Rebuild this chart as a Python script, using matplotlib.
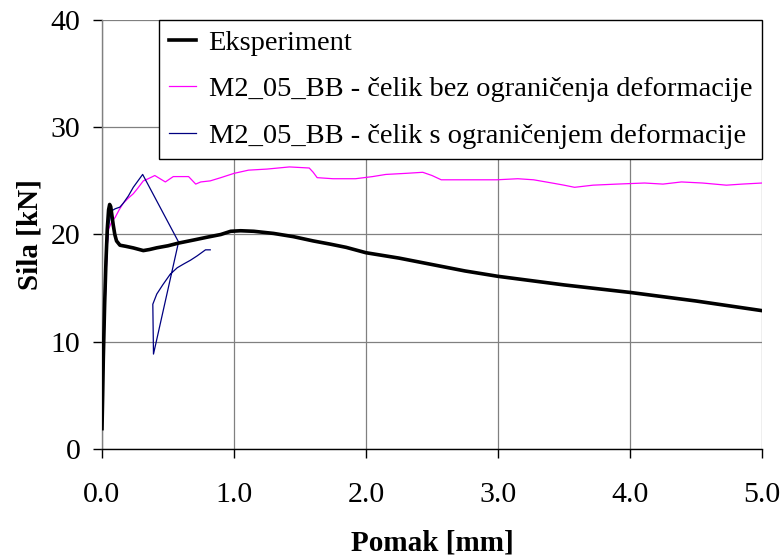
import matplotlib
matplotlib.use("Agg")
import matplotlib.pyplot as plt

plt.rcParams['font.family'] = ['Liberation Serif', 'DejaVu Serif']

# Eksperiment (black)
exp_x = [0.0, 0.005, 0.01, 0.02, 0.03, 0.04, 0.05, 0.058, 0.066, 0.075, 0.085, 0.097, 0.11, 0.136,
         0.18, 0.237, 0.313, 0.36, 0.415, 0.5, 0.58, 0.7, 0.797, 0.9, 0.975, 1.05, 1.15, 1.3,
         1.45, 1.6, 1.73, 1.85, 2.0, 2.25, 2.5, 2.75, 3.0, 3.5, 4.0, 4.5, 5.0]
exp_y = [1.9, 5.0, 8.5, 13.5, 17.5, 20.5, 22.3, 22.8, 22.6, 21.8, 20.9, 20.0, 19.4, 19.0,
         18.9, 18.75, 18.5, 18.6, 18.76, 18.95, 19.2, 19.5, 19.75, 20.0, 20.3, 20.35, 20.3, 20.1,
         19.8, 19.4, 19.1, 18.8, 18.3, 17.8, 17.2, 16.6, 16.1, 15.3, 14.6, 13.8, 12.9]

# M2_05_BB - čelik bez ograničenja deformacije (magenta)
mag_x = [0.0, 0.01, 0.02, 0.03, 0.04, 0.05, 0.072, 0.1, 0.13, 0.16, 0.2, 0.237, 0.27, 0.313,
         0.35, 0.40, 0.44, 0.48, 0.54, 0.6, 0.656, 0.71, 0.748, 0.82, 0.9, 1.0, 1.11, 1.25,
         1.42, 1.57, 1.6, 1.63, 1.75, 1.92, 2.05, 2.15, 2.3, 2.43, 2.5, 2.57, 2.75, 2.99,
         3.15, 3.27, 3.41, 3.5, 3.58, 3.65, 3.72, 3.9, 4.11, 4.25, 4.39, 4.55, 4.73, 4.85, 5.0]
mag_y = [2.0, 7.0, 12.0, 16.0, 19.0, 20.5, 21.15, 21.6, 22.3, 22.9, 23.4, 23.8, 24.3, 25.0,
         25.2, 25.5, 25.2, 24.9, 25.4, 25.4, 25.4, 24.7, 24.9, 25.0, 25.3, 25.7, 26.0, 26.1,
         26.3, 26.2, 25.8, 25.3, 25.2, 25.2, 25.4, 25.6, 25.7, 25.8, 25.5, 25.1, 25.1, 25.1,
         25.2, 25.1, 24.8, 24.6, 24.4, 24.5, 24.6, 24.7, 24.8, 24.7, 24.9, 24.8, 24.6, 24.7, 24.8]

# M2_05_BB - čelik s ograničenjem deformacije (navy)
blu_x = [0.0, 0.01, 0.02, 0.03, 0.04, 0.05, 0.072, 0.1, 0.135, 0.16, 0.2, 0.237, 0.308,
         0.58, 0.39, 0.385, 0.415, 0.46, 0.517, 0.57, 0.62, 0.67, 0.72, 0.784, 0.82]
blu_y = [2.0, 7.0, 12.0, 16.0, 19.0, 20.8, 22.2, 22.4, 22.55, 22.9, 23.6, 24.4, 25.6,
         19.3, 8.85, 13.5, 14.45, 15.3, 16.3, 16.9, 17.26, 17.6, 18.0, 18.57, 18.57]

x_ticks = [0.0, 1.0, 2.0, 3.0, 4.0, 5.0]
y_ticks = [0, 10, 20, 30, 40]

fig = plt.figure(figsize=(7.82, 5.58), dpi=100)
ax = fig.add_axes([102/782, 1-449/558, 660/782, 429/558])

ax.plot(exp_x, exp_y, color='black', lw=2.6, label='Eksperiment', zorder=4)
ax.plot(mag_x, mag_y, color='#ff00ff', lw=0.9, label='M2_05_BB - čelik bez ograničenja deformacije', zorder=3)
ax.plot(blu_x, blu_y, color='#000080', lw=0.9, label='M2_05_BB - čelik s ograničenjem deformacije', zorder=3)

ax.set_xlim(0, 5)
ax.set_ylim(0, 40)
ax.set_xticks(x_ticks)
ax.set_xticklabels([f"{v:.1f}" for v in x_ticks])
ax.set_yticks(y_ticks)
ax.grid(True, color='#808080', lw=0.9)
ax.set_axisbelow(True)

for s in ['top', 'right']:
    ax.spines[s].set_visible(False)
ax.spines['left'].set_color('#808080')
ax.spines['left'].set_linewidth(1.0)
ax.spines['bottom'].set_color('black')
ax.spines['bottom'].set_linewidth(1.0)

ax.tick_params(axis='both', direction='out', length=6.5, width=1, labelsize=21.5, colors='black')
ax.tick_params(axis='x', pad=17)
ax.tick_params(axis='y', pad=9)

ax.set_xlabel('Pomak [mm]', fontsize=21, fontweight='bold', labelpad=16)
ax.set_ylabel('Sila [kN]', fontsize=21, fontweight='bold', labelpad=5)

leg = ax.legend(loc='upper right', fontsize=20.5, frameon=True, fancybox=False,
                edgecolor='black', framealpha=1.0, borderaxespad=0, handlelength=0.95,
                handletextpad=0.45, labelspacing=0.72, borderpad=0.35)
leg.get_frame().set_linewidth(1.0)

fig.savefig('out.png', dpi=100)
